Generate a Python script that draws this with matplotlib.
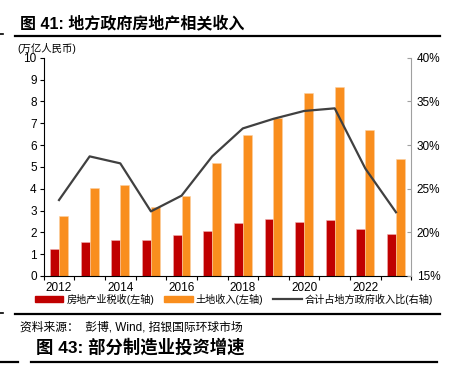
import matplotlib
matplotlib.use("Agg")
import matplotlib.pyplot as plt
import numpy as np
from matplotlib.lines import Line2D
from matplotlib.patches import Patch

plt.rcParams['font.family'] = ['Liberation Sans', 'Noto Sans CJK SC', 'DejaVu Sans']

years = [2012, 2013, 2014, 2015, 2016, 2017, 2018, 2019, 2020, 2021, 2022, 2023]
tax = [1.22, 1.54, 1.65, 1.64, 1.87, 2.08, 2.45, 2.60, 2.49, 2.55, 2.17, 1.93]
land = [2.75, 4.02, 4.16, 3.17, 3.67, 5.16, 6.45, 7.22, 8.38, 8.66, 6.67, 5.34]
ratio = [23.7, 28.7, 27.9, 22.4, 24.2, 28.7, 31.9, 33.0, 33.9, 34.2, 27.3, 22.3]
left_ticks = list(range(0, 11))
right_ticks = [15, 20, 25, 30, 35, 40]

RED = '#C00000'
ORANGE = '#F98E1E'
GRAY = '#404040'

W, H = 455, 371
fig = plt.figure(figsize=(W / 100, H / 100), dpi=100)
ax = fig.add_axes([43.7 / W, 1 - 276 / H, (411.3 - 43.7) / W, (276 - 57.7) / H])

x = np.arange(len(years))
bw = 0.29
ax.bar(x - bw / 2, tax, width=bw, color=RED, edgecolor='#F0B0B0', linewidth=0.4, zorder=2)
ax.bar(x + bw / 2, land, width=bw, color=ORANGE, edgecolor='#FCD0A0', linewidth=0.4, zorder=2)
ax.set_xlim(-0.5, len(years) - 0.5)
ax.set_ylim(0, 10)
ax.set_yticks(left_ticks)
ax.tick_params(axis='y', direction='out', length=3, labelsize=8.5, pad=2, colors='black')
ax.set_xticks(np.arange(-0.5, len(years), 1.0))
ax.set_xticklabels([])
ax.tick_params(axis='x', which='major', direction='out', length=3)
ax.set_xticks(x[::2], [str(y) for y in years[::2]], minor=True)
ax.tick_params(axis='x', which='minor', length=0, labelsize=8.5, pad=4)
for s in ['top', 'right']:
    ax.spines[s].set_visible(False)
ax.spines['left'].set_color('black')
ax.spines['bottom'].set_color('black')

ax2 = ax.twinx()
ax2.plot(x, ratio, color=GRAY, linewidth=1.6, zorder=3)
ax2.set_ylim(15, 40)
ax2.set_yticks(right_ticks)
ax2.set_yticklabels([f'{v}%' for v in right_ticks])
ax2.tick_params(axis='y', direction='in', length=3, labelsize=8.5, pad=4, color='#A0A0A0')
for s in ['top', 'left', 'bottom']:
    ax2.spines[s].set_visible(False)
ax2.spines['right'].set_color('#A0A0A0')

# Header texts and rules
fig.text(20 / W, 1 - 23 / H, '图 41: 地方政府房地产相关收入', fontsize=11.5, fontweight='bold', va='center', ha='left')
fig.add_artist(Line2D([15 / W, 440 / W], [1 - 36 / H] * 2, color='black', linewidth=1.6))
fig.add_artist(Line2D([0, 3 / W], [1 - 34 / H] * 2, color='black', linewidth=1.2))
fig.text(17 / W, 1 - 48 / H, '(万亿人民币)', fontsize=7.5, va='center', ha='left')

handles = [Patch(color=RED), Patch(color=ORANGE), Line2D([], [], color=GRAY, linewidth=1.6)]
labels = ['房地产业税收(左轴)', '土地收入(左轴)', '合计占地方政府收入比(右轴)']
fig.legend(handles, labels, loc='center', bbox_to_anchor=(234 / W, 1 - 299 / H), ncol=3,
           frameon=False, fontsize=7.3, handlelength=2.8, handleheight=0.5, handletextpad=0.3,
           columnspacing=1.0, borderaxespad=0, borderpad=0)

fig.add_artist(Line2D([15 / W, 440 / W], [1 - 314 / H] * 2, color='black', linewidth=1.6))
fig.add_artist(Line2D([0, 3 / W], [1 - 313 / H] * 2, color='black', linewidth=1.2))
fig.text(20 / W, 1 - 327 / H, '资料来源：  彭博, Wind, 招银国际环球市场', fontsize=8.5, va='center', ha='left')
fig.text(36 / W, 1 - 347 / H, '图 43: 部分制造业投资增速', fontsize=12.5, fontweight='bold', va='center', ha='left')
fig.add_artist(Line2D([31 / W, 437 / W], [1 - 362 / H] * 2, color='black', linewidth=1.6))
fig.add_artist(Line2D([0, 18 / W], [1 - 362 / H] * 2, color='black', linewidth=1.6))

fig.savefig('out.png', dpi=100)
